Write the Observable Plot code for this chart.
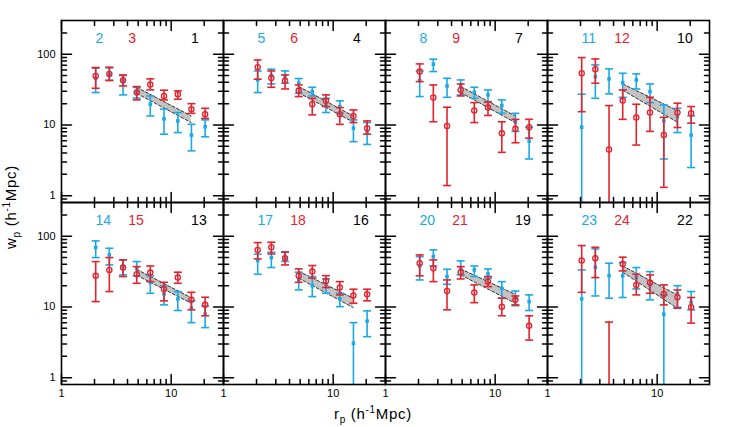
<!DOCTYPE html>
<html><head><meta charset="utf-8">
<script src="https://cdn.jsdelivr.net/npm/d3@7"></script>
<script src="https://cdn.jsdelivr.net/npm/@observablehq/plot@0.6"></script>
<style>body{margin:0;background:#fff}</style>
</head><body><div id="chart"></div>
<script>
// panel ids (black), blue label = id+1, red label = id+2
const panelIds = [1, 4, 7, 10, 13, 16, 19, 22];
const rp = [2.05, 2.73, 3.64, 4.85, 6.45, 8.6, 11.5, 15.3, 20.4];

const blueW = [
  [45.7, 52, 42.5, 29, 19.6, 12.2, 11.4, 7.2, 9.4],
  [43.3, 49.9, 48.3, 38.9, 29.6, 18.8, 18.2, 9.0, 8.0],
  [42.4, 72.1, 35.6, 35.6, 29, 26.6, 18.8, 11.1, 5.9],
  [9.3, 48.3, 44.8, 39.7, 43.3, 29.6, 11.4, 13.1, 7.2],
  [69.2, 54.4, 37.2, 35.2, 22.3, 15.3, 13, 9.6, 7.9],
  [45.3, 49.9, 48.8, 24.1, 20, 20.9, 13, 3.06, 6.3],
  [38, 51.5, 26.9, 34.5, 33.4, 29.3, 18.4, 13.3, 11.9],
  [13, 36.4, 27.7, 27.7, 26, 20.5, 7.9, 15.3, 11.6]
];
const blueHi = [
  [63.4, 64, 49.9, 34, 25.7, 16.8, 15, 10.2, 11.8],
  [58, 61.4, 58, 45.3, 34.1, 23.8, 21.9, 11.8, 10.8],
  [58, 85, 45.7, 43.3, 34.1, 31.3, 22.6, 14.6, 9.3],
  [27.2, 70.6, 62, 53.8, 52.7, 38, 19.2, 17.2, 13.4],
  [85.9, 67.6, 46.3, 43.8, 27.5, 20, 16.5, 12.2, 10.3],
  [55.6, 59.4, 60.5, 31, 26.9, 24.9, 15.6, 6.0, 8.8],
  [51.5, 64.1, 34.1, 44.8, 38, 34.5, 22.8, 16.8, 14.8],
  [33.4, 66.2, 41.5, 42.4, 36.1, 31.6, 14.8, 20, 16.5]
];
const blueLo = [
  [28.7, 43, 26.6, 24, 13.4, 7.4, 7.8, 4.3, 6.8],
  [28.7, 38, 38.9, 28, 25.7, 15, 14.6, 5.8, 5.3],
  [25.2, 56.9, 24.6, 26.6, 23.8, 21.4, 14.6, 8.1, 3.3],
  [0.1, 23.8, 27.5, 24.6, 32.3, 20.7, 3.3, 7.8, 2.5],
  [49.9, 39.3, 28.4, 27.5, 15.6, 10.7, 8.9, 6.0, 5.1],
  [29, 36.1, 44, 17.4, 14, 15.6, 10.1, 0.1, 3.8],
  [24.1, 38, 20.9, 28.4, 26.9, 25.5, 13.3, 10.4, 8.9],
  [0.1, 14.3, 13.3, 13.6, 18, 12.6, 0.1, 9.9, 9.1]
];
const redW = [
  [49.4, 52.7, 42.9, 28.7, 37.2, 25.7, 27.2, 16.7, 14.2],
  [65.5, 46.3, 42, 30.6, 19.6, 21.9, 14.2, 13.4, 9.0],
  [56.9, 24.4, 9.7, 31.3, 16, 17.6, 7.6, 8.8, 9.3],
  [53.8, 61.4, 4.5, 22.1, 12.7, 15, 7.2, 15, 14.6],
  [27.7, 33.4, 36.1, 29, 30.6, 18, 26, 12.6, 10.7],
  [64.1, 69.8, 48.8, 27.7, 31.6, 23.3, 18.8, 14.5, 15.1],
  [41.5, 35.2, 16.8, 31, 16, 22.8, 10.1, 12.6, 5.4],
  [45.3, 48.8, 0.3, 40.6, 20.5, 22.1, 15.3, 13.7, 9.9]
];
const redHi = [
  [64.8, 65.5, 51, 34.9, 44.8, 31, 30.3, 20, 17.2],
  [83, 58, 51, 36.8, 23.8, 26.6, 17.6, 16.3, 11.4],
  [73, 36.8, 17.8, 38, 20.7, 21.1, 11.1, 12, 12],
  [89.7, 85.9, 18.8, 31.3, 19.6, 24.6, 12.8, 20.3, 18.2],
  [43.8, 49.9, 46.3, 37.2, 38, 22.3, 31, 16.1, 13.7],
  [81.3, 82.2, 59.4, 34.5, 38.5, 27.7, 22.8, 17.8, 17.8],
  [54.4, 46.3, 24.1, 37.2, 20.5, 26.9, 13.3, 14.3, 7.5],
  [73.8, 69.8, 6.1, 50.5, 29, 28.4, 20.5, 17.4, 13.6]
];
const redLo = [
  [33, 42.4, 35.6, 22.6, 31.3, 22.6, 23.1, 14.6, 12.4],
  [44.3, 34.1, 32.3, 25.2, 13.9, 18.2, 10.2, 10.8, 7.4],
  [41, 11.1, 1.39, 25.7, 10.8, 13.6, 4.1, 5.6, 6.5],
  [15.4, 38.9, 0.1, 12, 5.2, 8.1, 1.31, 9.2, 10.6],
  [11.9, 16.5, 26.9, 21.6, 22.8, 12.2, 21.6, 9.1, 7.5],
  [47.8, 56.2, 39.3, 22.3, 25.5, 18.8, 14.8, 11.3, 12.2],
  [27.5, 22.8, 9.1, 24.9, 11.5, 19.4, 7.5, 10.7, 3.4],
  [16.1, 26, 0.1, 32.3, 14.8, 15.6, 10.7, 9.6, 5.9]
];

// shaded model band (start and end of the fitted range)
const bandX = [4.85, 15.2];
const bandHiStart = [34, 35, 35, 38, 34, 32, 34.5, 38];
const bandLoStart = [28, 28.5, 28.7, 31, 28, 25.5, 28.4, 31];
const bandHiEnd = [13.4, 13.4, 13.4, 16, 13.5, 13.3, 15.1, 14.8];
const bandLoEnd = [10.8, 11, 10.8, 11, 11.3, 9.8, 11.3, 9.6];

const majorX = [1, 10];
const minorX = [2, 3, 4, 5, 6, 7, 8, 9, 20];
const majorY = [1, 10, 100];
const minorY = [0.9, 2, 3, 4, 5, 6, 7, 8, 9, 20, 30, 40, 50, 60, 70, 80, 90, 200];

const BLUE = "#1aa8e6", RED = "#e5222c";

// build tables
const blueRows = [], redRows = [], bandRows = [], labelRows = [];
panelIds.forEach((id, p) => {
  const col = p % 4, row = Math.floor(p / 4);
  rp.forEach((x, i) => {
    blueRows.push({col, row, x, w: blueW[p][i], lo: blueLo[p][i], hi: blueHi[p][i]});
    redRows.push({col, row, x, w: redW[p][i], lo: redLo[p][i], hi: redHi[p][i]});
  });
  bandRows.push({col, row, x: bandX[0], lo: bandLoStart[p], hi: bandHiStart[p]});
  bandRows.push({col, row, x: bandX[1], lo: bandLoEnd[p], hi: bandHiEnd[p]});
  labelRows.push({col, row, x: 2.04, text: String(id + 1), color: BLUE});
  labelRows.push({col, row, x: 4.06, text: String(id + 2), color: RED});
  labelRows.push({col, row, x: 15.2, text: String(id), color: "black"});
});

const cap = {draw(ctx, size) { const w = Math.sqrt(size / Math.PI); ctx.moveTo(-w, 0); ctx.lineTo(w, 0); }};
const tickShape = {draw(ctx, l) { ctx.moveTo(0, 0); ctx.lineTo(0, -l); }};
const F = {fx: "col", fy: "row"};

function errMarks(rows, color) {
  return [
    Plot.ruleX(rows, {x: "x", y1: "lo", y2: "hi", ...F, stroke: color, strokeWidth: 1.6, clip: true}),
    Plot.dot(rows, {x: "x", y: "lo", ...F, symbol: cap, r: 4, stroke: color, strokeWidth: 1.6, clip: true}),
    Plot.dot(rows, {x: "x", y: "hi", ...F, symbol: cap, r: 4, stroke: color, strokeWidth: 1.6, clip: true})
  ];
}

// inward-pointing ticks on all four sides of every panel
function xTicks(values, len) {
  return [
    Plot.vector(values, {x: d => d, frameAnchor: "bottom", rotate: 0, length: len, anchor: "start", shape: tickShape, stroke: "black", strokeWidth: 1.5}),
    Plot.vector(values, {x: d => d, frameAnchor: "top", rotate: 180, length: len, anchor: "start", shape: tickShape, stroke: "black", strokeWidth: 1.5})
  ];
}
function yTicks(values, len) {
  return [
    Plot.vector(values, {y: d => d, frameAnchor: "left", rotate: 90, length: len, anchor: "start", shape: tickShape, stroke: "black", strokeWidth: 1.5}),
    Plot.vector(values, {y: d => d, frameAnchor: "right", rotate: -90, length: len, anchor: "start", shape: tickShape, stroke: "black", strokeWidth: 1.5})
  ];
}

const chart = Plot.plot({
  width: 747, height: 427,
  marginLeft: 60, marginRight: 38, marginTop: 20, marginBottom: 43,
  style: {fontFamily: "'Liberation Sans', Arial, sans-serif", fontSize: "11px", background: "#fff", color: "black"},
  fx: {domain: [0, 1, 2, 3], padding: 0, axis: null},
  fy: {domain: [0, 1], padding: 0, axis: null},
  x: {type: "log", domain: [1, 30]},
  y: {type: "log", domain: [0.8, 300]},
  marks: [
    Plot.areaY(bandRows, {x: "x", y1: "lo", y2: "hi", ...F, fill: "#c3c3c3"}),
    Plot.line(bandRows, {x: "x", y: "lo", ...F, stroke: "#333", strokeWidth: 1, strokeDasharray: "3,2"}),
    Plot.line(bandRows, {x: "x", y: "hi", ...F, stroke: "#333", strokeWidth: 1, strokeDasharray: "3,2"}),
    ...errMarks(blueRows, BLUE),
    Plot.dot(blueRows, {x: "x", y: "w", ...F, symbol: "square", r: 2, fill: BLUE, clip: true}),
    ...errMarks(redRows, RED),
    Plot.dot(redRows, {x: "x", y: "w", ...F, symbol: "circle", r: 2.6, stroke: RED, strokeWidth: 1.3, fill: "none", clip: true}),
    Plot.text(labelRows, {x: "x", y: 143, ...F, text: "text", fill: "color", textAnchor: "start", lineAnchor: "bottom", fontSize: 14}),
    ...xTicks(majorX, 10),
    ...xTicks(minorX, 5),
    ...yTicks(majorY, 10),
    ...yTicks(minorY, 5),
    Plot.frame({stroke: "black", strokeWidth: 1.6}),
    Plot.axisX(majorX, {anchor: "bottom", tickSize: 0, tickPadding: 5, stroke: "none", fill: "black", label: null, tickFormat: d => `${d}`}),
    Plot.axisY(majorY, {anchor: "left", tickSize: 0, tickPadding: 6, stroke: "none", fill: "black", label: null, tickFormat: d => `${d}`})
  ]
});

document.getElementById("chart").appendChild(chart);

// axis titles with sub/superscripts
const svg = d3.select(chart);
function axisTitle(sel, main) {
  sel.attr("text-anchor", "middle").attr("font-size", 15).attr("letter-spacing", 0.7).attr("fill", "black");
  sel.append("tspan").text(main);
  sel.append("tspan").attr("font-size", 10).attr("dy", 4).text("p");
  sel.append("tspan").attr("dy", -4).text(" (h");
  sel.append("tspan").attr("font-size", 10).attr("dy", -6).text("-1");
  sel.append("tspan").attr("dy", 6).text("Mpc)");
}
axisTitle(svg.append("text").attr("transform", "translate(16,207) rotate(-90)"), "w");
axisTitle(svg.append("text").attr("transform", "translate(373,419)"), "r");
</script>
</body></html>
